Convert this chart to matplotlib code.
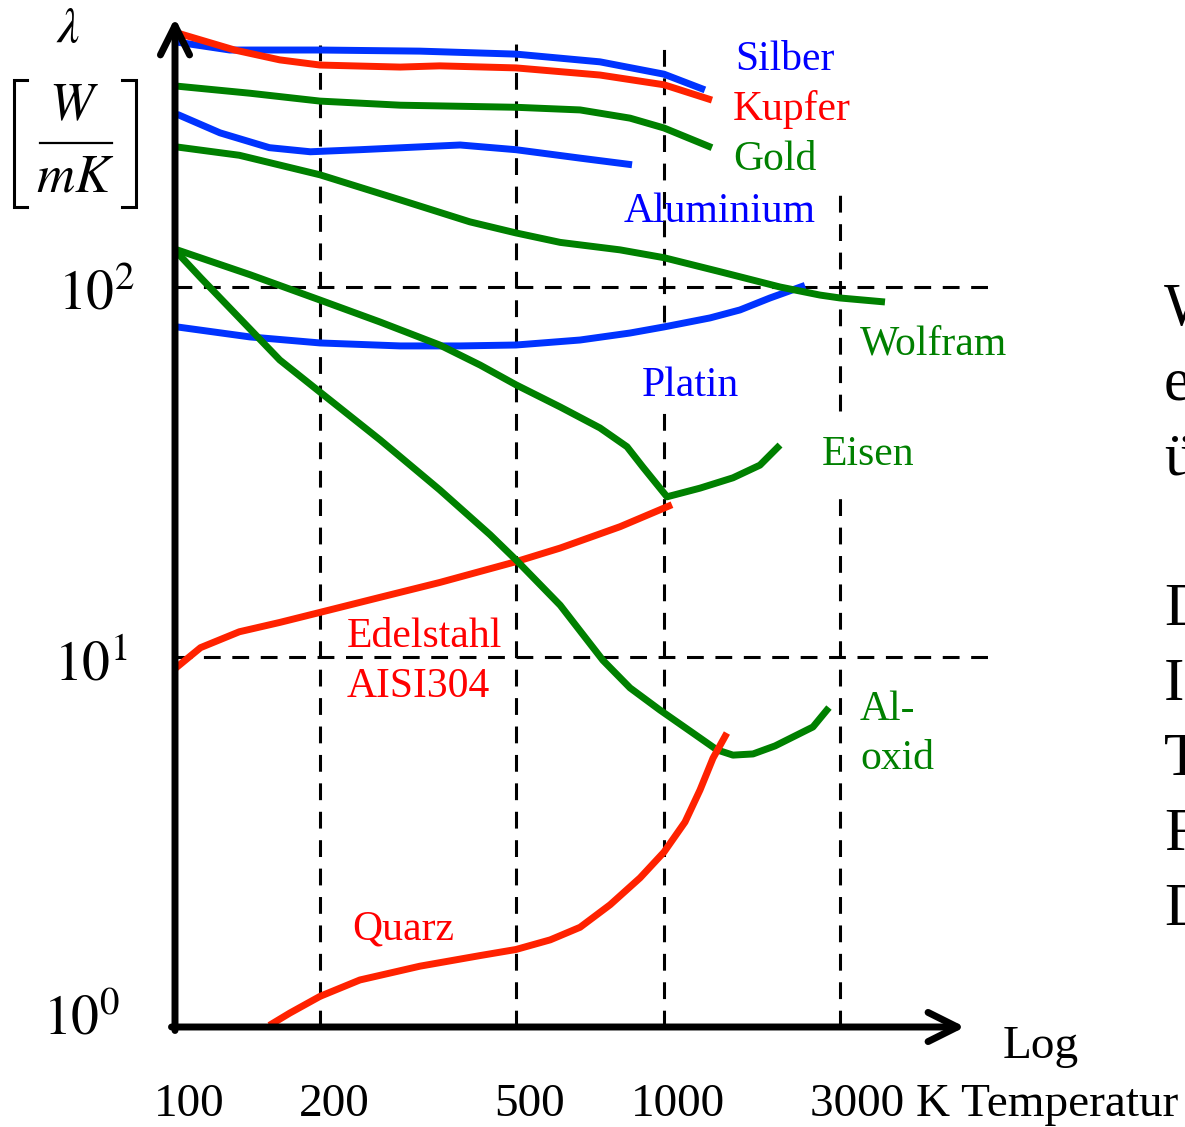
import numpy as np
import matplotlib.pyplot as plt
from matplotlib.lines import Line2D

# Waermeleitfaehigkeit lambda [W/mK] ueber Temperatur [K], Werte aus dem Bild gelesen
TEMP_TICKS = [100, 200, 500, 1000, 3000]
TEMP_LABELS = ['100', '200', '500', '1000', '3000 K Temperatur']
LAMBDA_TICKS = [1, 10, 100]
LAMBDA_LABELS = [r'$10^0$', r'$10^1$', r'$10^2$']

silber_T = [101, 130, 200, 319, 500, 741, 1000, 1291]
silber_L = [459, 437, 437, 434, 426, 406, 376, 341]

kupfer_T = [101, 133, 165, 200, 291, 350, 500, 741, 1000, 1349]
kupfer_L = [486, 437, 411, 398, 393, 396, 391, 374, 352, 320]

gold_T = [101, 143, 200, 291, 500, 675, 853, 1000, 1349]
gold_L = [349, 334, 318, 310, 306, 301, 286, 269, 238]

alu_T = [101, 124, 157, 191, 241, 385, 500, 675, 861]
alu_L = [293, 261, 238, 232, 235, 242, 235, 223, 214]

wolfram_T = [101, 136, 200, 291, 403, 500, 615, 814, 1000, 1418, 2063, 2648, 3000, 3972]
wolfram_L = [239, 227, 201, 172, 150, 140, 132, 126, 120, 110, 100, 95.1, 93.4, 91.1]

platin_T = [101, 143, 200, 291, 385, 500, 675, 853, 1000, 1333, 1607, 1938, 2411]
platin_L = [78.0, 73.3, 70.6, 69.3, 69.3, 69.7, 71.9, 75.1, 78.0, 82.5, 86.7, 93.4, 101]

eisen_T = [101, 143, 200, 265, 350, 423, 500, 615, 741, 841, 906, 959, 1019,
           1252, 1538, 1820, 2063]
eisen_L = [126, 108, 92.2, 80.4, 69.7, 61.5, 54.4, 47.4, 41.6, 37.0, 32.6, 29.7, 27.1,
           28.6, 30.5, 33.0, 37.4]

aloxid_T = [101, 113, 136, 165, 200, 265, 350, 443, 500, 615, 751, 853, 981, 1198, 1392,
            1538, 1743, 2000, 2237, 2534, 2800]
aloxid_L = [124, 106, 82.5, 63.5, 52.0, 38.6, 28.3, 21.4, 18.3, 13.8, 9.8, 8.25, 7.19, 6.23,
            5.61, 5.43, 5.47, 5.75, 6.08, 6.47, 7.3]

edelstahl_T = [100, 113, 136, 165, 200, 265, 350, 500, 615, 814, 1051]
edelstahl_L = [9.3, 10.6, 11.7, 12.4, 13.2, 14.5, 15.9, 18.1, 19.7, 22.5, 25.8]

quarz_T = [157, 173, 200, 241, 319, 423, 500, 587, 675, 777, 894, 1000, 1140, 1252,
           1358, 1481]
quarz_L = [1.01, 1.09, 1.21, 1.34, 1.46, 1.56, 1.62, 1.72, 1.86, 2.14, 2.53, 2.97, 3.58,
           4.37, 5.33, 6.23]

RIGHT_TEXT = ['W', 'e', 'ü', '', 'D', 'I', 'T', 'F', 'D']

BLUE, RED, GREEN = '#0033ff', '#ff2200', '#008000'

plt.rcParams['font.family'] = ['Liberation Serif', 'DejaVu Serif']
plt.rcParams['mathtext.fontset'] = 'stix'

W, H = 1185, 1127


def fpos(x, y):
    # Pixel -> Figurenkoordinaten
    return x / W, 1 - y / H


# x-Achse: log. Temperatur, Abstaende wie im Original (nicht ganz regelmaessig)
LK = [1.0, 2.0, np.log10(200), np.log10(500), 3.0, np.log10(3000), 5.0]
LP = [-482, 0, 145, 341, 489, 665, 1227]


def fwd(x):
    x = np.asarray(x, dtype=float)
    return np.interp(np.log10(np.clip(x, 1e-6, None)), LK, LP)


def inv(p):
    return 10 ** np.interp(np.asarray(p, dtype=float), LP, LK)


fig = plt.figure(figsize=(W / 100, H / 100), dpi=100)
ax = fig.add_axes([175 / W, 100 / H, 825 / W, 1009 / H])
ax.set_xscale('function', functions=(fwd, inv))
ax.set_yscale('log')
ax.set_xlim(100, float(inv(825)))
ax.set_ylim(1, 10 ** (1009 / 370))
ax.set_xticks([])
ax.set_yticks([])
ax.minorticks_off()
for s in ax.spines.values():
    s.set_visible(False)
ax.patch.set_alpha(0)

# Hilfslinien
dash = dict(color='black', lw=2.2, linestyle=(0, (5.5, 3.8)))
ax.hlines([10, 100], 100, float(inv(815)), **dash)
ax.vlines(200, 1, 451, **dash)
ax.vlines(500, 1, 465, **dash)
ax.vlines(1000, 1, 46.5, **dash)
ax.vlines(1000, 80.4, 465, **dash)
ax.vlines(3000, 1, 28.6, **dash)
ax.vlines(3000, 46.2, 189, **dash)

# Kurven
curves = [
    (silber_T, silber_L, BLUE),
    (alu_T, alu_L, BLUE),
    (platin_T, platin_L, BLUE),
    (gold_T, gold_L, GREEN),
    (wolfram_T, wolfram_L, GREEN),
    (eisen_T, eisen_L, GREEN),
    (edelstahl_T, edelstahl_L, RED),
    (aloxid_T, aloxid_L, GREEN),
    (kupfer_T, kupfer_L, RED),
    (quarz_T, quarz_L, RED),
]
for t, l, c in curves:
    ax.plot(t, l, color=c, lw=5, solid_joinstyle='round', solid_capstyle='butt', clip_on=False)

# Achsenpfeile
arrow = dict(arrowstyle='->,head_length=0.7,head_width=0.35', lw=5, color='black',
             shrinkA=0, shrinkB=0, mutation_scale=30, capstyle='round', joinstyle='round')
ax.annotate('', xy=(0, 1), xytext=(0, -3.5 / 1009), xycoords='axes fraction', arrowprops=arrow)
ax.annotate('', xy=(790 / 825, 0), xytext=(-3.5 / 825, 0), xycoords='axes fraction',
            arrowprops=arrow)

# Achsenbeschriftung
for i, (t, lab) in enumerate(zip(TEMP_TICKS, TEMP_LABELS)):
    last = i == len(TEMP_TICKS) - 1
    ax.annotate(lab, xy=(t, 0), xycoords=('data', 'axes fraction'),
                xytext=(-21.5 if last else 10, -64), textcoords='offset points',
                ha='left' if last else 'center', va='baseline', fontsize=34)

y_shift = [(-40, 5), (-34, -7), (-29, -6)]
for v, lab, (dx, dy) in zip(LAMBDA_TICKS, LAMBDA_LABELS, y_shift):
    ax.annotate(lab, xy=(0, v), xycoords=('axes fraction', 'data'),
                xytext=(dx, dy), textcoords='offset points',
                ha='right', va='center', fontsize=40)

fig.text(*fpos(1003, 1058), 'Log', fontsize=34, va='baseline')

# Einheit: lambda [W/mK]
fig.text(*fpos(68, 30), r'$\lambda$', fontsize=36, ha='center', va='center')
fig.text(*fpos(74, 107), r'$W$', fontsize=38, ha='center', va='center')
fig.text(*fpos(75, 178), r'$mK$', fontsize=38, ha='center', va='center')
fig.add_artist(Line2D([40 / W, 112 / W], [1 - 143 / H] * 2, color='black', lw=1.6))
for xs in ([27, 14, 14, 27], [122, 136, 136, 122]):
    fig.add_artist(Line2D([x / W for x in xs], [1 - y / H for y in (80, 80, 207, 207)],
                          color='black', lw=2.2, solid_joinstyle='miter'))

# Kurvennamen
labels = [
    ('Silber', 735, 70, 'blue'),
    ('Kupfer', 733, 120, 'red'),
    ('Gold', 733, 170, GREEN),
    ('Aluminium', 624, 222, 'blue'),
    ('Wolfram', 860, 355, GREEN),
    ('Platin', 642, 396, 'blue'),
    ('Eisen', 822, 465, GREEN),
    ('Edelstahl', 347, 647, 'red'),
    ('AISI304', 347, 697, 'red'),
    ('Al-', 860, 720, GREEN),
    ('oxid', 860, 769, GREEN),
    ('Quarz', 352, 940, 'red'),
]
for txt, x, y, c in labels:
    fig.text(*fpos(x, y), txt, color=c, fontsize=30, va='baseline')

# abgeschnittener Folientext am rechten Rand
for i, ch in enumerate(RIGHT_TEXT):
    fig.text(*fpos(1164, 310 + 75 * i), ch, fontsize=44, va='center')

fig.savefig('out.png', dpi=100)
